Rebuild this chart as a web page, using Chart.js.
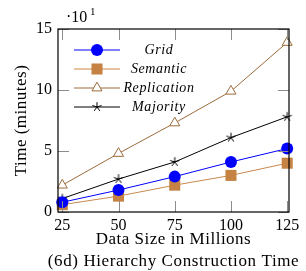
<!DOCTYPE html>
<html>
<head>
<meta charset="utf-8">
<script src="https://cdn.jsdelivr.net/npm/chart.js@4.4.1/dist/chart.umd.min.js"></script>
<style>
html,body{margin:0;padding:0;background:#fff;}
#wrap{width:306px;height:271px;}
</style>
</head>
<body>
<div id="wrap"><canvas id="c" width="306" height="271"></canvas></div>
<script>
// Data (values in units of 10 minutes)
const sizes = [25, 50, 75, 100, 125];
const gridTimes = [0.8, 1.8, 2.9, 4.1, 5.2];
const semanticTimes = [0.6, 1.3, 2.2, 3.0, 4.0];
const replicationTimes = [2.2, 4.8, 7.3, 9.9, 13.9];
const majorityTimes = [1.1, 2.7, 4.1, 6.1, 7.8];
const xTicks = [25, 50, 75, 100, 125];
const yTicks = [0, 5, 10, 15];
const seriesNames = ['Grid', 'Semantic', 'Replication', 'Majority'];

const SERIF = '"Liberation Serif", "DejaVu Serif", serif';

function makeStar(color) {
  const c = document.createElement('canvas');
  c.width = 12; c.height = 12;
  const g = c.getContext('2d');
  g.strokeStyle = color; g.lineWidth = 1;
  g.beginPath();
  for (let i = 0; i < 5; i++) {
    const a = -Math.PI / 2 + i * 2 * Math.PI / 5;
    g.moveTo(6, 6);
    g.lineTo(6 + Math.cos(a) * 4.8, 6 + Math.sin(a) * 4.8);
  }
  g.stroke();
  return c;
}
const starImg = makeStar('#000');

const pts = arr => arr.map((v, i) => ({x: sizes[i], y: v}));

const datasets = [
  {label: seriesNames[0], data: pts(gridTimes), borderColor: '#0000ff', backgroundColor: '#0000ff',
   pointStyle: 'circle', pointRadius: 6, borderWidth: 1, pointBorderWidth: 0, legendLine: '#0000ff'},
  {label: seriesNames[1], data: pts(semanticTimes), borderColor: '#c8894c', backgroundColor: '#c58243',
   pointStyle: 'rect', pointRadius: 7.8, borderWidth: 1, pointBorderWidth: 0, legendLine: '#e6c39c'},
  {label: seriesNames[2], data: pts(replicationTimes), borderColor: '#9c6b3c', backgroundColor: '#ffffff',
   pointStyle: 'triangle', pointRadius: 5.8, borderWidth: 1, pointBorderWidth: 1, legendLine: '#9c6b3c'},
  {label: seriesNames[3], data: pts(majorityTimes), borderColor: '#000000', backgroundColor: '#000000',
   pointStyle: starImg, pointRadius: 6, borderWidth: 1, pointBorderWidth: 1, legendLine: '#000000'}
];
datasets.forEach(d => { d.tension = 0; d.fill = false; d.pointHoverRadius = d.pointRadius; d.clip = false; });

const deco = {
  id: 'deco',
  afterDatasetsDraw(chart) {
    const ctx = chart.ctx, a = chart.chartArea;
    const xs = chart.scales.x, ys = chart.scales.y;
    ctx.save();
    // ticks
    ctx.strokeStyle = '#8c8c8c'; ctx.lineWidth = 1;
    ctx.beginPath();
    xTicks.forEach(t => {
      const px = Math.round(xs.getPixelForValue(t)) + 0.5;
      ctx.moveTo(px, a.bottom); ctx.lineTo(px, a.bottom - 11);
      ctx.moveTo(px, a.top); ctx.lineTo(px, a.top + 11);
    });
    yTicks.forEach(t => {
      const py = Math.round(ys.getPixelForValue(t)) + 0.5;
      ctx.moveTo(a.left, py); ctx.lineTo(a.left + 11, py);
      ctx.moveTo(a.right, py); ctx.lineTo(a.right - 11, py);
    });
    ctx.stroke();
    // frame
    ctx.strokeStyle = '#000'; ctx.lineWidth = 1.2;
    ctx.strokeRect(a.left, a.top, a.right - a.left, a.bottom - a.top);
    // legend
    const rows = [50, 69, 88, 107];
    chart.data.datasets.forEach((d, i) => {
      const y = rows[i];
      ctx.strokeStyle = d.legendLine; ctx.lineWidth = i === 1 ? 2 : 1;
      ctx.beginPath(); ctx.moveTo(74, y); ctx.lineTo(120, y); ctx.stroke();
      ctx.save();
      ctx.fillStyle = d.backgroundColor; ctx.strokeStyle = d.borderColor;
      ctx.lineWidth = d.pointBorderWidth;
      Chart.helpers.drawPoint(ctx, {pointStyle: d.pointStyle, radius: d.pointRadius, rotation: 0, borderWidth: d.pointBorderWidth}, 97, y);
      ctx.restore();
      ctx.fillStyle = '#000';
      ctx.font = 'italic 14px ' + SERIF;
      ctx.letterSpacing = '0.6px';
      ctx.textAlign = 'center'; ctx.textBaseline = 'middle';
      ctx.fillText(d.label, 159, y);
    });
    ctx.letterSpacing = '0px';
    // multiplier
    ctx.fillStyle = '#000';
    ctx.textAlign = 'left'; ctx.textBaseline = 'alphabetic';
    ctx.font = '16px ' + SERIF;
    ctx.fillText('\u00b710', 66, 22);
    ctx.font = '11px ' + SERIF;
    ctx.fillText('1', 90, 15);
    // axis titles
    ctx.font = '17px ' + SERIF;
    ctx.letterSpacing = '0.5px';
    ctx.textAlign = 'center'; ctx.textBaseline = 'middle';
    ctx.fillText('Data Size in Millions', (a.left + a.right) / 2, 240);
    ctx.letterSpacing = '0.6px';
    ctx.fillText('(6d) Hierarchy Construction Time', (a.left + a.right) / 2, 262);
    ctx.save();
    ctx.translate(22, (a.top + a.bottom) / 2);
    ctx.rotate(-Math.PI / 2);
    ctx.letterSpacing = '0.5px';
    ctx.fillText('Time (minutes)', 0, 0);
    ctx.restore();
    ctx.letterSpacing = '0px';
    ctx.restore();
  }
};

new Chart(document.getElementById('c'), {
  type: 'line',
  data: {datasets},
  options: {
    responsive: false, animation: false, devicePixelRatio: 1,
    layout: {padding: {left: 0, top: 29, right: 17, bottom: 0}},
    plugins: {legend: {display: false}, tooltip: {enabled: false}},
    scales: {
      x: {
        type: 'linear', min: 23.1, max: 125.8,
        afterBuildTicks: s => { s.ticks = xTicks.map(v => ({value: v})); },
        afterFit: s => { s.height = 59; },
        grid: {display: false, drawTicks: false},
        border: {display: false},
        ticks: {color: '#000', font: {family: SERIF, size: 16}, padding: 4, maxRotation: 0}
      },
      y: {
        min: 0, max: 15,
        afterBuildTicks: s => { s.ticks = yTicks.map(v => ({value: v})); },
        afterFit: s => { s.width = 58; },
        grid: {display: false, drawTicks: false},
        border: {display: false},
        ticks: {color: '#000', font: {family: SERIF, size: 16}, padding: 6}
      }
    }
  },
  plugins: [deco]
});
</script>
</body>
</html>
